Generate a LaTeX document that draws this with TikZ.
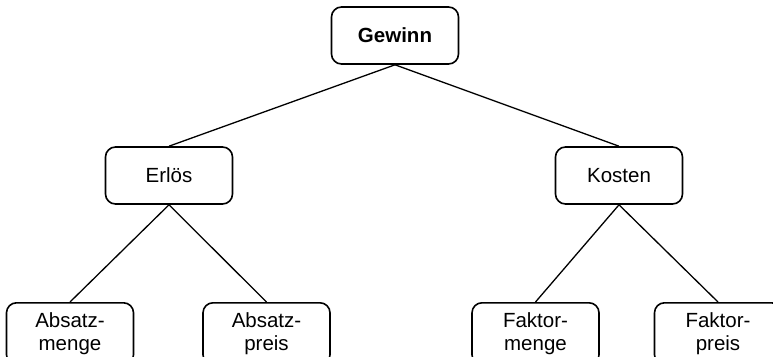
\documentclass[tikz,border=0pt]{standalone}
\usepackage{fontspec}
\setmainfont{Liberation Sans}
\begin{document}
\begin{tikzpicture}[x=1pt,y=-1pt,
  box/.style={draw, line width=1.6pt, rounded corners=10pt,
    minimum width=127pt, minimum height=57pt, inner sep=0pt,
    font=\fontsize{20.5}{23}\selectfont, align=center},
  leaf/.style={box, minimum height=62pt, anchor=north},
  link/.style={line width=1.3pt}]
\useasboundingbox (0,0) rectangle (773,356);
\clip (0,0) rectangle (773,356);

% tree levels
\node[box] (g) at (395,35.5) {\textbf{Gewinn}};
\node[box] (e) at (169,175.5) {Erlös};
\node[box] (k) at (619,175.5) {Kosten};
\node[leaf] (am) at (70,302) {Absatz-\\menge};
\node[leaf] (ap) at (266.5,302) {Absatz-\\preis};
\node[leaf] (fm) at (535.5,302) {Faktor-\\menge};
\node[leaf] (fp) at (718,302) {Faktor-\\preis};

% connectors
\draw[link] (g.south) -- (e.north);
\draw[link] (g.south) -- (k.north);
\draw[link] (e.south) -- (am.north);
\draw[link] (e.south) -- (ap.north);
\draw[link] (k.south) -- (fm.north);
\draw[link] (k.south) -- (fp.north);
\end{tikzpicture}
\end{document}
